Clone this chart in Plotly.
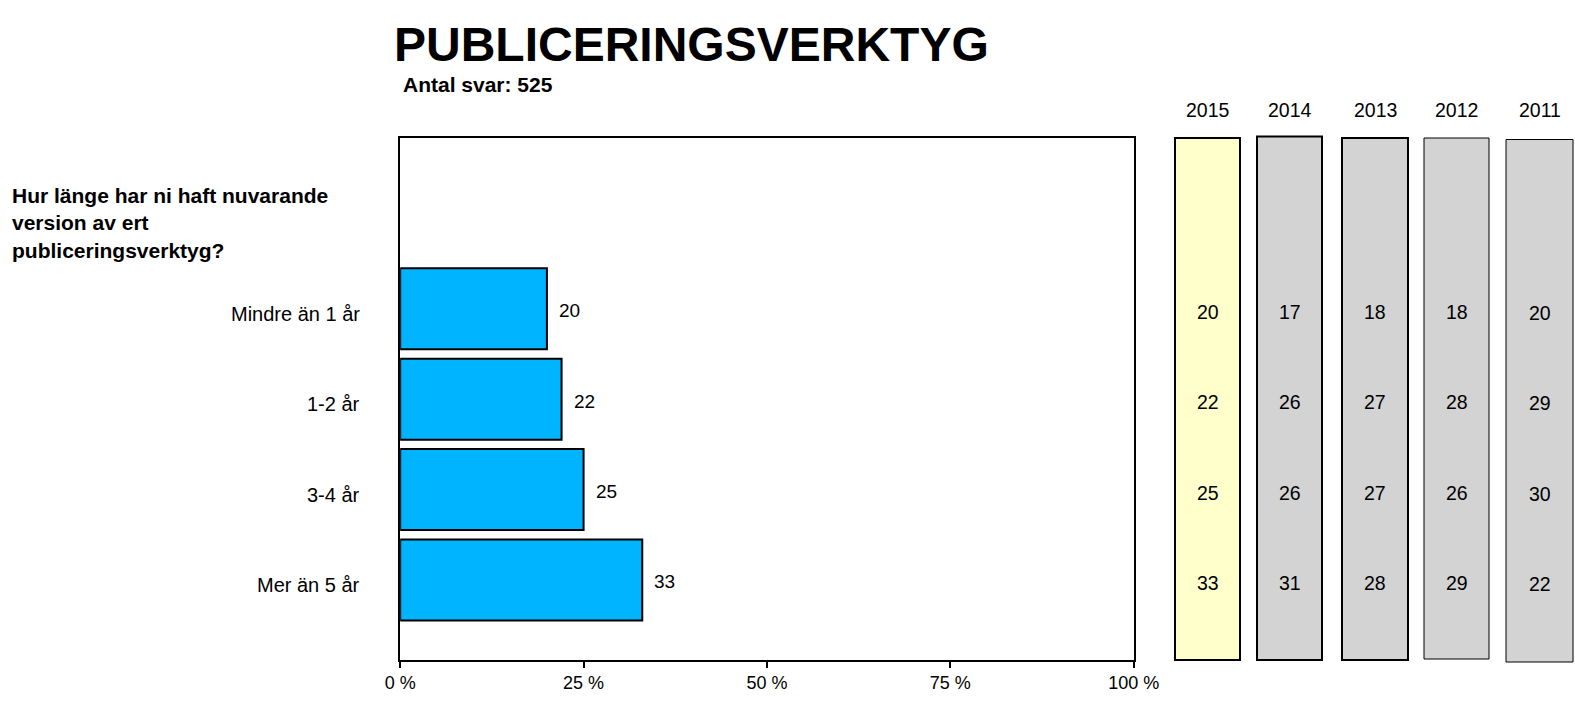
import plotly.graph_objects as go

categories = ["Mindre än 1 år", "1-2 år", "3-4 år", "Mer än 5 år"]
values_2015 = [20, 22, 25, 33]
years = ["2015", "2014", "2013", "2012", "2011"]
history = {
    "2015": [20, 22, 25, 33],
    "2014": [17, 26, 26, 31],
    "2013": [18, 27, 27, 28],
    "2012": [18, 28, 26, 29],
    "2011": [20, 29, 30, 22],
}
x_tick_vals = [0, 25, 50, 75, 100]
x_tick_text = ["0 %", "25 %", "50 %", "75 %", "100 %"]
title_text = "PUBLICERINGSVERKTYG"
subtitle_text = "Antal svar: 525"
question_text = "Hur länge har ni haft nuvarande<br>version av ert<br>publiceringsverktyg?"

FONT = "Arial, Liberation Sans, sans-serif"
W, H = 1575, 707

def px(x):
    return x / W

def py(y):
    return 1 - y / H

fig = go.Figure()

fig.add_trace(go.Bar(
    x=values_2015, y=categories, orientation="h",
    marker=dict(color="#00B4FF", line=dict(color="black", width=2)),
    width=0.896, showlegend=False, hoverinfo="skip",
))

col_domains = [(1175, 1240), (1257, 1322), (1342, 1408), (1424, 1489), (1506, 1573)]
col_vert = [(138, 660), (136.5, 660), (138, 660), (138, 659), (139.5, 662)]
col_fill = ["#FFFFCC", "#D3D3D3", "#D3D3D3", "#D3D3D3", "#D3D3D3"]
col_lw = [2, 2, 2, 1, 1]
col_yshift = [-3, -3, -3, -3, -4]

shapes = []
annotations = []
for i, yr in enumerate(years):
    ax = f"x{i+2}"
    axname = f"xaxis{i+2}"
    x0, x1 = col_domains[i]
    fig.update_layout(**{axname: dict(domain=[px(x0), px(x1)], range=[0, 1], visible=False,
                                        fixedrange=True, anchor="y")})
    y0, y1 = col_vert[i]
    shapes.append(dict(type="rect", xref=f"{ax} domain", yref="paper",
                       x0=0, x1=1, y0=py(y1), y1=py(y0),
                       fillcolor=col_fill[i], line=dict(color="black", width=col_lw[i]),
                       layer="below"))
    fig.add_trace(go.Scatter(x=[0.5] * len(categories), y=categories, mode="markers",
                             marker=dict(opacity=0), xaxis=ax, yaxis="y",
                             showlegend=False, hoverinfo="skip"))
    for cat, v in zip(categories, history[yr]):
        annotations.append(dict(x=0.5, y=cat, xref=ax, yref="y", text=str(v), showarrow=False,
                                xanchor="center", yanchor="middle", yshift=col_yshift[i],
                                font=dict(family=FONT, size=19.5, color="black")))
    annotations.append(dict(x=0.5, xref=f"{ax} domain", y=py(110), yref="paper",
                            text=yr, showarrow=False, xanchor="center", yanchor="middle",
                            font=dict(family=FONT, size=19.5, color="black")))

for cat, v in zip(categories, values_2015):
    annotations.append(dict(x=v, y=cat, xref="x", yref="y", text=str(v), showarrow=False,
                            xanchor="left", yanchor="middle", xshift=10, yshift=-2,
                            font=dict(family=FONT, size=19, color="black")))

for cat in categories:
    annotations.append(dict(x=0, y=cat, xref="x", yref="y", text=cat, showarrow=False,
                            xanchor="right", yanchor="middle", xshift=-38, yshift=-5,
                            font=dict(family=FONT, size=20, color="black")))

annotations.append(dict(x=px(392), y=py(45), xref="paper", yref="paper", text=f"<b>{title_text}</b>",
                        showarrow=False, xanchor="left", yanchor="middle",
                        font=dict(family=FONT, size=48, color="black")))
annotations.append(dict(x=px(401), y=py(84), xref="paper", yref="paper", text=f"<b>{subtitle_text}</b>",
                        showarrow=False, xanchor="left", yanchor="middle",
                        font=dict(family=FONT, size=21, color="black")))
annotations.append(dict(x=px(10), y=py(223), xref="paper", yref="paper", text=f"<b>{question_text}</b>",
                        showarrow=False, xanchor="left", yanchor="middle", align="left",
                        font=dict(family=FONT, size=21, color="black")))

fig.update_layout(
    width=W, height=H,
    margin=dict(l=0, r=0, t=0, b=0, autoexpand=False),
    paper_bgcolor="white", plot_bgcolor="white",
    font=dict(family=FONT, color="black"),
    xaxis=dict(domain=[px(400.2), px(1133.7)], range=[0, 100], tickvals=x_tick_vals, ticktext=x_tick_text,
               showgrid=False, zeroline=False, showline=True, linecolor="black", linewidth=2,
               mirror=True, ticks="outside", ticklen=6, tickwidth=2, tickcolor="black",
               tickfont=dict(family=FONT, size=18, color="black"), fixedrange=True,
               automargin=False),
    yaxis=dict(domain=[py(659.8), py(137.8)], type="category",
               categoryorder="array", categoryarray=categories[::-1],
               range=[-0.883, 4.892], showgrid=False, zeroline=False, showline=True,
               linecolor="black", linewidth=2, mirror=True, ticks="", showticklabels=False,
               fixedrange=True, automargin=False),
    shapes=shapes,
    annotations=annotations,
    showlegend=False,
)

fig.write_html("out.html", config={"displayModeBar": False},
               post_script="document.body.style.margin='0';")
